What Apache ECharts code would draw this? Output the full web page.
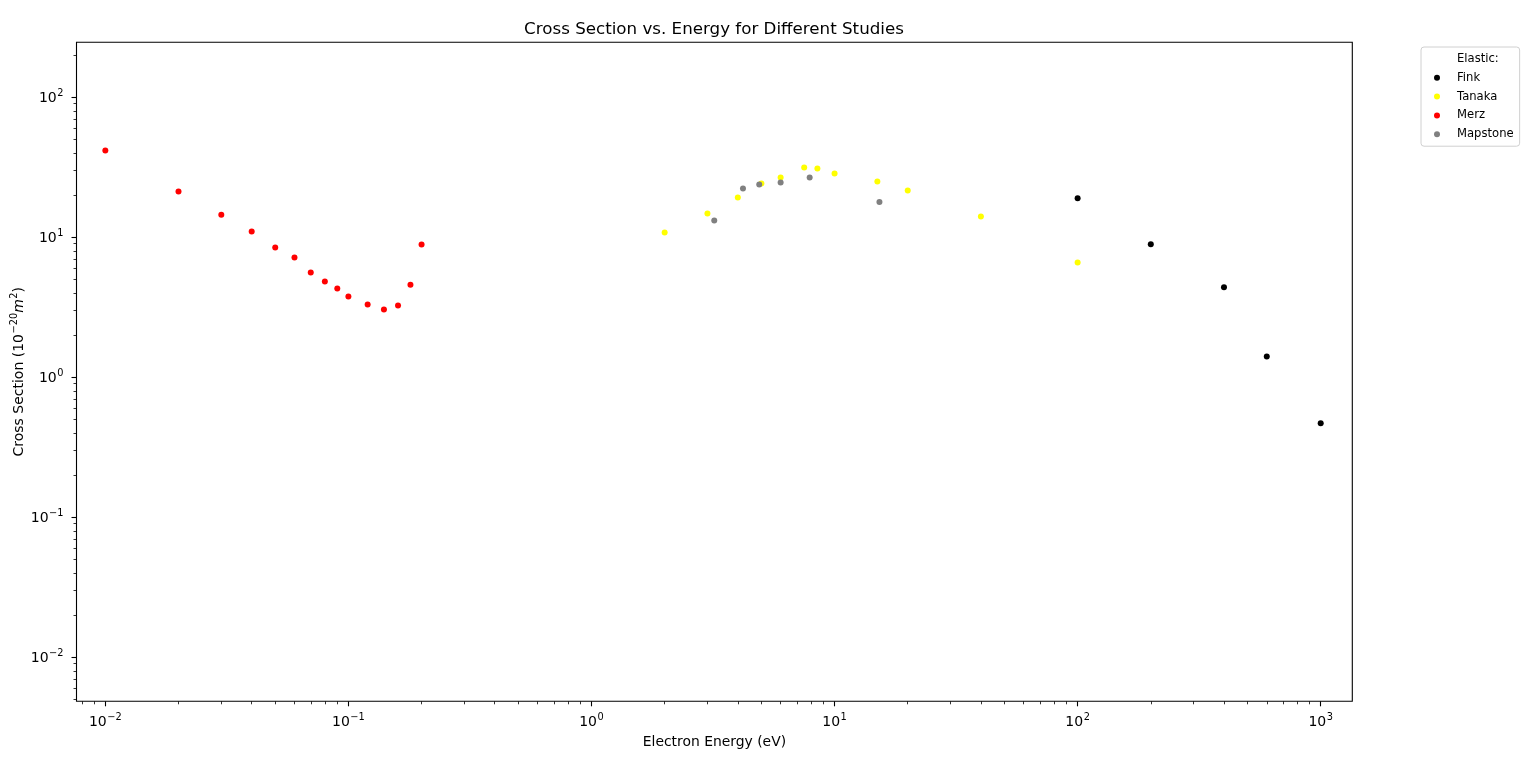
<!DOCTYPE html>
<html>
<head>
<meta charset="utf-8">
<script src="https://cdn.jsdelivr.net/npm/echarts@6/dist/echarts.min.js"></script>
<style>
  html, body { margin: 0; padding: 0; background: #fff; }
  #main { width: 1536px; height: 762px; }
</style>
</head>
<body>
<div id="main"></div>
<script>
// data (energy in eV, cross section in 1e-20 m^2)
var finkE = [100, 200, 400, 600, 1000]
var finkS = [19.0, 8.9, 4.4, 1.41, 0.47]

var tanakaE = [2, 3, 4, 5, 6, 7.5, 8.5, 10, 15, 20, 40, 100]
var tanakaS = [10.8, 14.8, 19.2, 24.2, 26.7, 31.5, 31.0, 28.5, 25.0, 21.6, 14.1, 6.6]

var merzE = [0.01, 0.02, 0.03, 0.04, 0.05, 0.06, 0.07, 0.08, 0.09, 0.1, 0.12, 0.14, 0.16, 0.18, 0.2]
var merzS = [41.6, 21.2, 14.5, 11.0, 8.44, 7.16, 5.6, 4.83, 4.30, 3.77, 3.31, 3.05, 3.25, 4.59, 8.87]

var mapstoneE = [3.2, 4.2, 4.9, 6.0, 7.9, 15.3]
var mapstoneS = [13.2, 22.3, 23.8, 24.6, 26.7, 17.9]

// decade exponents shown as tick labels
var xDecades = [-2, -1, 0, 1, 2, 3]
var yDecades = [-2, -1, 0, 1, 2]

// axis range (log10 space)
var xMin = Math.log10(0.00761), xMax = Math.log10(1349)
var yMin = Math.log10(0.00485), yMax = Math.log10(247)

var FONT = 'DejaVu Sans'

// log10 of every pair -> points on linear axes
function toLog (xs, ys) {
    var out = []
    for (var i = 0; i < xs.length; i++) {
        out.push([Math.log10(xs[i]), Math.log10(ys[i])])
    }
    return out
}

// minor ticks 2..9 x 10^n
function minorTicks (lo, hi) {
    var tmp = []
    for (var n = lo; n <= hi; n++) {
        for (var k = 2; k <= 9; k++) {
            tmp.push(Math.log10(k) + n)
        }
    }
    return tmp
}

// rich styles for "10^n"
var supRich = {
    b: { fontFamily: FONT, fontSize: 14, verticalAlign: 'bottom', color: '#000' },
    s: { fontFamily: FONT, fontSize: 9.8, verticalAlign: 'bottom', padding: [0, 0, 7, 0.5], color: '#000' },
    i: { fontFamily: FONT, fontSize: 14, fontStyle: 'italic', verticalAlign: 'bottom', color: '#000' }
}

function powLabel (v) {
    var e = Math.round(v)
    return '{b|10}{s|' + (e < 0 ? '\u2212' + (-e) : e) + '}'
}

var chart = echarts.init(document.getElementById('main'))

var markerSize = 6
var labelStyle = { fontFamily: FONT, fontSize: 14, color: '#000' }

chart.setOption({
    animation: false,
    backgroundColor: '#fff',
    title: {
        text: 'Cross Section vs. Energy for Different Studies',
        left: 714,
        textAlign: 'center',
        top: 21,
        padding: 0,
        textStyle: { fontFamily: FONT, fontSize: 16.7, fontWeight: 'normal', color: '#000' }
    },
    grid: {
        left: 76.5,
        top: 42.3,
        right: 183.7,
        bottom: 60.7,
        containLabel: false,
        outerBoundsMode: 'none',
        show: true,
        borderColor: '#000',
        borderWidth: 1.1,
        backgroundColor: '#fff'
    },
    legend: {
        orient: 'vertical',
        left: 1421,
        top: 47,
        padding: [5, 6, 5, 1],
        itemGap: 4.8,
        itemWidth: 30,
        itemHeight: 6,
        borderColor: '#d0d0d0',
        borderWidth: 1,
        borderRadius: 3,
        selectedMode: false,
        textStyle: { fontFamily: FONT, fontSize: 11.6, lineHeight: 14, color: '#000' },
        data: [
            { name: 'Elastic:', icon: 'none' },
            { name: 'Fink', icon: 'circle' },
            { name: 'Tanaka', icon: 'circle' },
            { name: 'Merz', icon: 'circle' },
            { name: 'Mapstone', icon: 'circle' }
        ]
    },
    xAxis: [
        {
            type: 'value',
            min: xMin,
            max: xMax,
            name: 'Electron Energy (eV)',
            nameLocation: 'middle',
            nameGap: 34,
            nameTextStyle: { fontFamily: FONT, fontSize: 13.9, color: '#000' },
            axisLine: { show: false, onZero: false },
            splitLine: { show: false },
            axisTick: { show: true, length: 5, customValues: xDecades, lineStyle: { color: '#000', width: 1.1 } },
            axisLabel: Object.assign({ margin: 11, customValues: xDecades, formatter: powLabel, rich: supRich }, labelStyle)
        },
        {
            // minor ticks only
            type: 'value',
            position: 'bottom',
            min: xMin,
            max: xMax,
            axisLine: { show: false, onZero: false },
            splitLine: { show: false },
            axisLabel: { show: false },
            axisTick: { show: true, length: 3, customValues: minorTicks(-3, 3), lineStyle: { color: '#000', width: 0.8 } }
        }
    ],
    yAxis: [
        {
            type: 'value',
            min: yMin,
            max: yMax,
            name: '{b|Cross Section (10}{s|\u221220}{i|m}{s|2}{b|)}',
            nameLocation: 'middle',
            nameGap: 50,
            nameMoveOverlap: false,
            nameTextStyle: Object.assign({ rich: supRich }, labelStyle),
            axisLine: { show: false, onZero: false },
            splitLine: { show: false },
            axisTick: { show: true, length: 5, customValues: yDecades, lineStyle: { color: '#000', width: 1.1 } },
            axisLabel: Object.assign({ margin: 13, customValues: yDecades, formatter: powLabel, rich: supRich }, labelStyle)
        },
        {
            type: 'value',
            position: 'left',
            min: yMin,
            max: yMax,
            axisLine: { show: false, onZero: false },
            splitLine: { show: false },
            axisLabel: { show: false },
            axisTick: { show: true, length: 3, customValues: minorTicks(-3, 2), lineStyle: { color: '#000', width: 0.8 } }
        }
    ],
    series: [
        { type: 'scatter', name: 'Elastic:', data: [] },
        {
            type: 'scatter',
            name: 'Fink',
            symbolSize: markerSize,
            itemStyle: { color: '#000000', opacity: 1 },
            data: toLog(finkE, finkS)
        },
        {
            type: 'scatter',
            name: 'Tanaka',
            symbolSize: markerSize,
            itemStyle: { color: '#ffff00', opacity: 1 },
            data: toLog(tanakaE, tanakaS)
        },
        {
            type: 'scatter',
            name: 'Merz',
            symbolSize: markerSize,
            itemStyle: { color: '#ff0000', opacity: 1 },
            data: toLog(merzE, merzS)
        },
        {
            type: 'scatter',
            name: 'Mapstone',
            symbolSize: markerSize,
            itemStyle: { color: '#808080', opacity: 1 },
            data: toLog(mapstoneE, mapstoneS)
        }
    ]
})
</script>
</body>
</html>
